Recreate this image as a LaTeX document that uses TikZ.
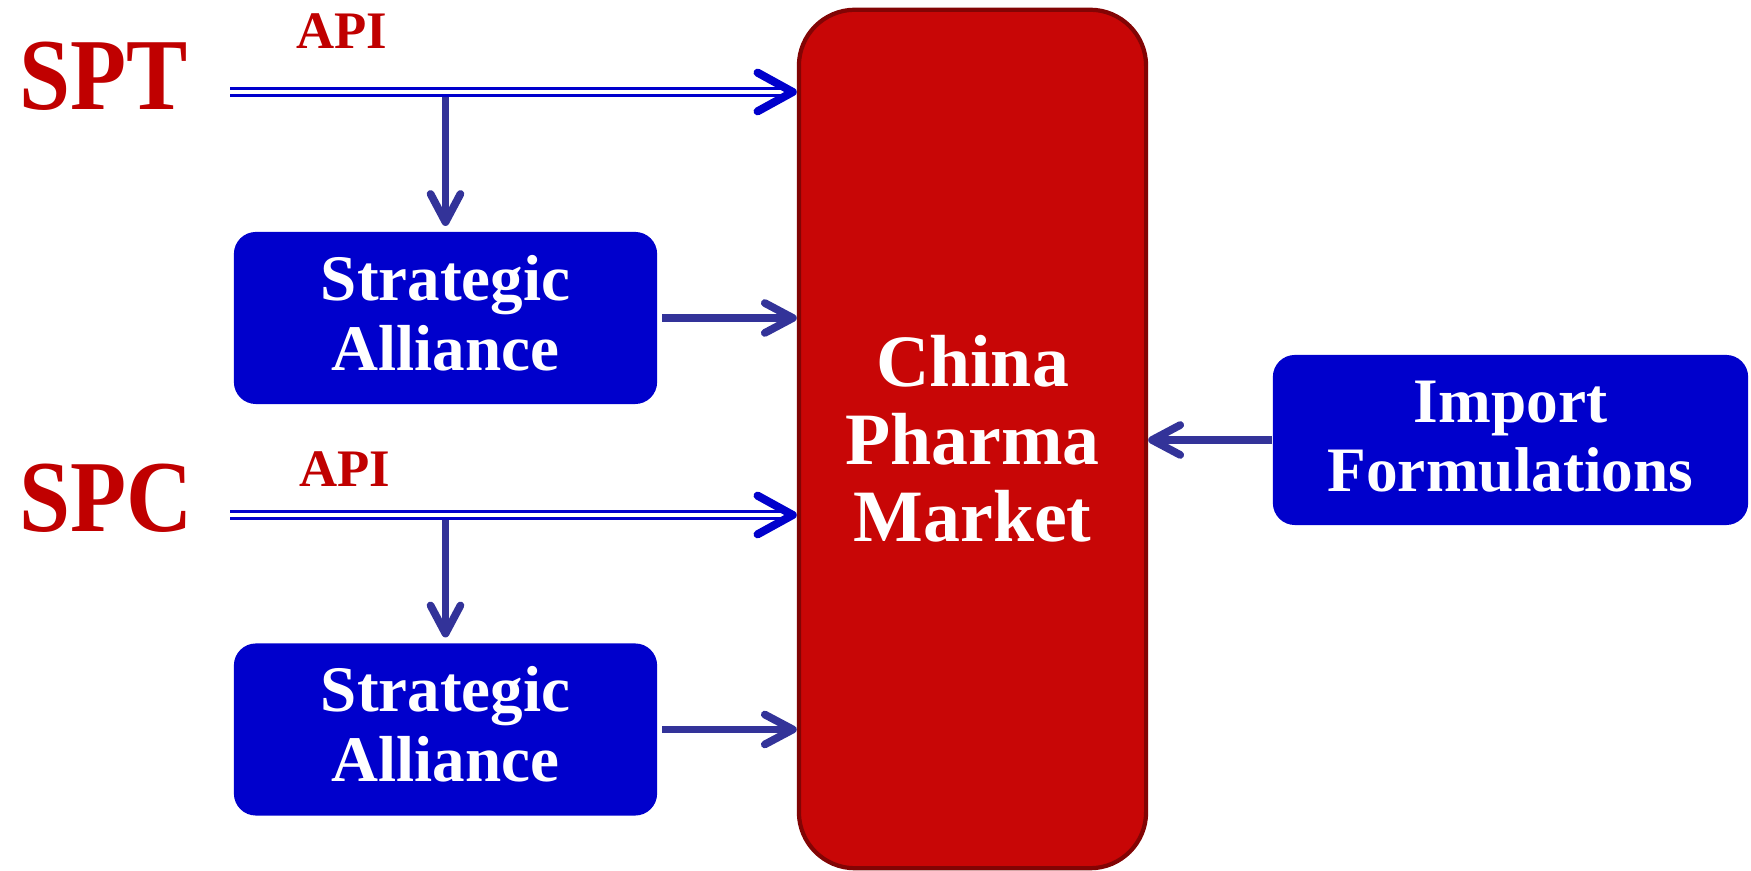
\documentclass[tikz,border=0pt]{standalone}
\usepackage{graphicx}
\usepackage{fontspec}
\setmainfont{Liberation Serif}
\usepackage{xcolor}
\usetikzlibrary{arrows.meta}

\definecolor{firmred}{HTML}{C00000}
\definecolor{marketred}{HTML}{C80606}
\definecolor{boxblue}{HTML}{0000CC}
\definecolor{flowblue}{HTML}{333399}

\tikzset{
    firm/.style = {text = firmred, inner sep = 0pt,
        font = \bfseries\fontsize{29}{30}\selectfont},
    apitag/.style = {text = firmred, inner sep = 0pt,
        font = \bfseries\fontsize{15}{16}\selectfont},
    partner/.style = {fill = boxblue, text = white, align = center,
        rounded corners = 0.22cm, text depth = 3pt,
        minimum width = 4.23cm, minimum height = 1.72cm,
        font = \bfseries\fontsize{18.5}{19.8}\selectfont},
    market/.style = {fill = marketred, draw = marketred!65!black,
        line width = 1.2pt, text = white, align = center,
        rounded corners = 0.56cm,
        minimum width = 3.47cm, minimum height = 8.58cm,
        font = \bfseries\fontsize{21}{22}\selectfont},
    flow/.style = {draw = flowblue, line width = 2.2pt,
        -{Straight Barb[round, length = 8pt, width = 8.5pt]}},
    apiline/.style = {draw = boxblue, double = white,
        line width = 0.95pt, double distance = 1pt},
    apitip/.style = {draw = boxblue, line width = 2.3pt,
        -{Straight Barb[round, length = 10pt, width = 11pt]}}
}

\begin{document}
\begin{tikzpicture}[x = 0.01cm, y = -0.01cm]
        \useasboundingbox (0,0) rectangle (1751,871);

        \node[market] (cpm) at (972.5,439) {China\\Pharma\\Market};
        \node[partner] (sa1) at (445.5,318) {Strategic\\Alliance};
        \node[partner] (sa2) at (445.5,729.5) {Strategic\\Alliance};
        \node[partner, minimum width = 4.75cm, minimum height = 1.7cm,
            text depth = 2pt, font = \bfseries\fontsize{18}{19.6}\selectfont]
            (imp) at (1510.5,440) {Import\\Formulations};

        \node[firm] (spt) at (103.5,76) {\scalebox{0.9}[1]{SPT}};
        \node[firm] (spc) at (106,498.5) {\scalebox{0.9}[1]{SPC}};
        \node[apitag] (api1) at (342,31) {API};
        \node[apitag] (api2) at (345,469.5) {API};

        \coordinate (spt-out) at (230,92);
        \coordinate (spc-out) at (230,515);
        \coordinate (spt-in) at (spt-out -| cpm.west);
        \coordinate (spc-in) at (spc-out -| cpm.west);

        % API down to the alliances
        \draw[flow, shorten >= 1.5pt] (sa1.north |- spt-out) -- (sa1.north);
        \draw[flow, shorten >= 1.5pt] (sa2.north |- spc-out) -- (sa2.north);

        % API straight into the market
        \draw[apiline] (spt-out) -- ([xshift = -3pt]spt-in);
        \draw[apitip] ([xshift = -1pt]spt-in) -- (spt-in);
        \draw[apiline] (spc-out) -- ([xshift = -3pt]spc-in);
        \draw[apitip] ([xshift = -1pt]spc-in) -- (spc-in);

        \draw[flow, shorten <= 1.2pt] (sa1.east) -- (sa1.east -| cpm.west);
        \draw[flow, shorten <= 1.2pt] (sa2.east) -- (sa2.east -| cpm.west);
        \draw[flow] (imp.west) -- (imp.west -| cpm.east);
    \end{tikzpicture}
\end{document}
